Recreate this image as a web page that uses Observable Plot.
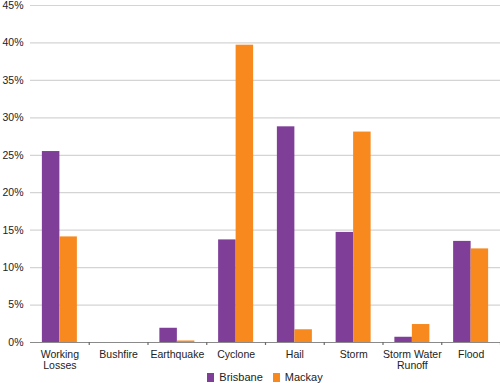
<!DOCTYPE html>
<html><head><meta charset="utf-8">
<script src="https://cdn.jsdelivr.net/npm/d3@7"></script>
<script src="https://cdn.jsdelivr.net/npm/@observablehq/plot@0.6"></script>
<style>
body{margin:0;background:#fff;font-family:"Liberation Sans",Arial,sans-serif;}
#chart svg{display:block;}
#legend{display:flex;justify-content:center;gap:10px;font-size:11px;color:#222;height:12px;line-height:12px;align-items:center;padding-left:30px;}
#legend span.sw{display:inline-block;width:7px;height:9px;margin-right:5px;vertical-align:middle;position:relative;top:-1px;}
</style></head>
<body><div id="chart"></div><div id="legend"></div>
<script>
const categories = ["Working\nLosses","Bushfire","Earthquake","Cyclone","Hail","Storm","Storm Water\nRunoff","Flood"];
const series = ["Brisbane","Mackay"];
const brisbane = [25.5, 0, 1.9, 13.7, 28.8, 14.7, 0.7, 13.5];
const mackay = [14.1, 0, 0.2, 39.7, 1.7, 28.1, 2.4, 12.5];
const colors = ["#7f3f98","#f7891f"];
const yTicks = [0,5,10,15,20,25,30,35,40,45];

const data = [];
categories.forEach((c,i)=>{
  data.push({category:c, series:"Brisbane", value:brisbane[i]});
  data.push({category:c, series:"Mackay", value:mackay[i]});
});

const W = 500, H = 371, mL = 30, mR = 0;
const bw = (W - mL - mR) / categories.length;
const barW = 17.5;
const outer = (bw - 2*barW)/2;

const chart = Plot.plot({
  width: W, height: H,
  marginLeft: mL, marginRight: mR, marginTop: 5, marginBottom: 29,
  style: {fontFamily: "Liberation Sans, Arial, sans-serif", fontSize: "10.5px", color:"#222", background:"#fff"},
  x: {domain: categories, padding: 0, round: false, label: null},
  y: {domain: [0,45], label: null},
  color: {domain: series, range: colors},
  marks: [
    Plot.gridY(yTicks, {stroke: "#d4d4d4", strokeOpacity: 1, strokeWidth: 1.2}),
    Plot.barY(data.filter(d=>d.series==="Brisbane"), {x:"category", y:"value", fill:"series", insetLeft: outer, insetRight: bw - outer - barW}),
    Plot.barY(data.filter(d=>d.series==="Mackay"), {x:"category", y:"value", fill:"series", insetLeft: outer + barW, insetRight: outer}),
    Plot.axisY(yTicks, {tickSize: 0, tickPadding: 7, tickFormat: d => d + "%", label: null}),
    Plot.ruleX([0], {frameAnchor:"left", stroke:"#8a8a8a", strokeWidth: 1.2}),
    Plot.ruleY([0], {stroke: "#8a8a8a", strokeWidth: 1.2}),
    Plot.axisX({tickSize: 0, tickPadding: 7, label: null, lineHeight: 1.1}),
    Plot.axisX({tickSize: 3, tickFormat: () => "", dx: bw/2, stroke: "#6a6a6a", strokeWidth: 1.2, label: null})
  ]
});
document.getElementById("chart").appendChild(chart);

const lg = document.getElementById("legend");
series.forEach((s,i)=>{
  const d = document.createElement("div");
  d.innerHTML = `<span class="sw" style="background:${colors[i]}"></span>${s}`;
  lg.appendChild(d);
});
</script>
</body></html>
